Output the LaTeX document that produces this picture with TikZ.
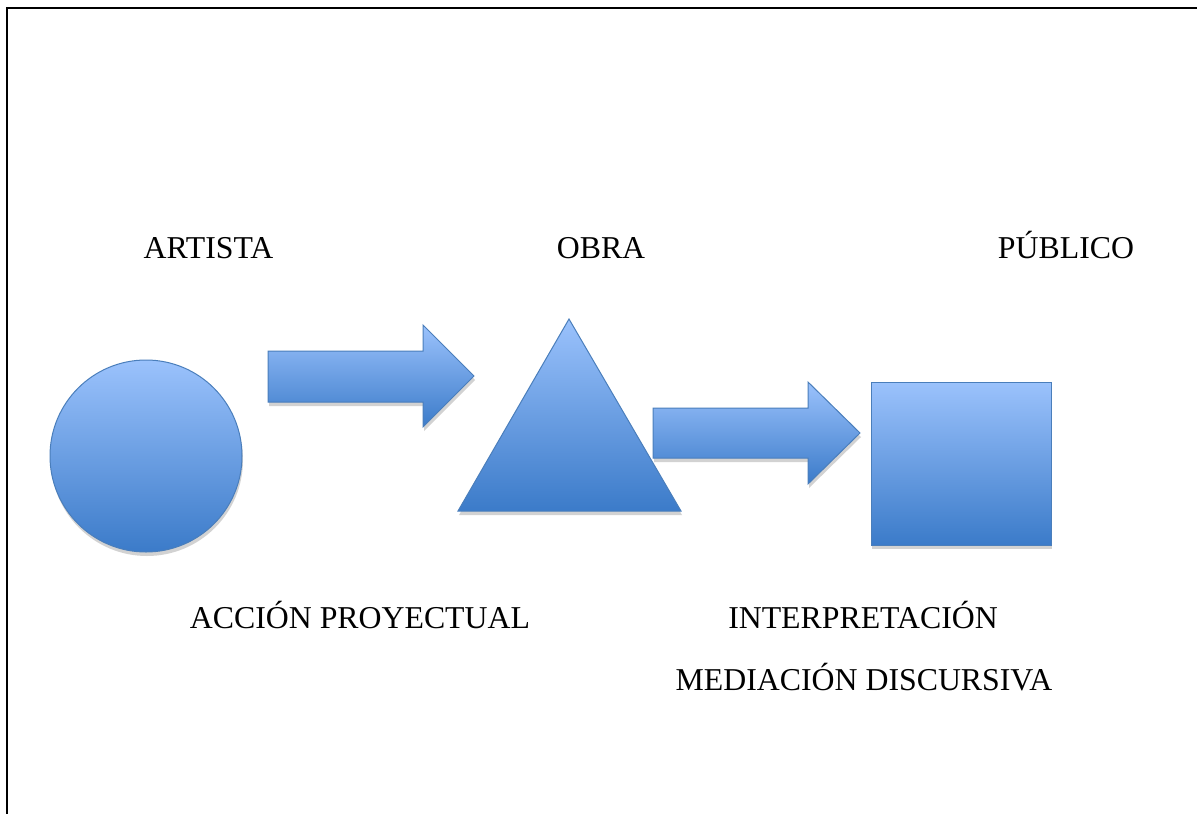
\documentclass[tikz,border=0pt]{standalone}
\usepackage{fontspec}
\setmainfont{Liberation Serif}
\usetikzlibrary{shadows}
\definecolor{azulclaro}{HTML}{9BC2FC}
\definecolor{azuloscuro}{HTML}{3B7BC9}
\definecolor{azulborde}{HTML}{4A7EBB}
\tikzset{
	figura/.style={draw=azulborde, line width=1pt, top color=azulclaro, bottom color=azuloscuro,
		drop shadow={shadow xshift=1pt, shadow yshift=-4pt, opacity=0.25, fill=black!70}},
	etiqueta/.style={anchor=base, inner sep=0pt, font=\fontsize{31.8}{38}\selectfont}
}
\begin{document}
\begin{tikzpicture}[x=1pt, y=-1pt]
	\useasboundingbox (0,0) rectangle (1197,814);
	% marco
	\draw [line width=2.4pt] (7,814) -- (7,8) -- (1197,8);
	
	% figuras
	\draw [figura] (146,456) circle [radius=96];
	\draw [figura] (268,351) -- (423,351) -- (423,325) -- (474,376) -- (423,427) -- (423,402) -- (268,402) -- cycle;
	\draw [figura] (569,319) -- (681,511) -- (458,511) -- cycle;
	\draw [figura] (653,408) -- (808,408) -- (808,382) -- (860,433) -- (808,484) -- (808,458) -- (653,458) -- cycle;
	\draw [figura] (871,382) rectangle (1051,545);
	
	% textos
	\node [etiqueta] (artista) at (208.5,258) {ARTISTA};
	\node [etiqueta] (obra) at (601,258) {OBRA};
	\node [etiqueta] (publico) at (1066,258) {PÚBLICO};
	\node [etiqueta] (accion) at (360,628) {ACCIÓN PROYECTUAL};
	\node [etiqueta] (interpretacion) at (863,628) {INTERPRETACIÓN};
	\node [etiqueta] (mediacion) at (864,690) {MEDIACIÓN DISCURSIVA};
\end{tikzpicture}
\end{document}
